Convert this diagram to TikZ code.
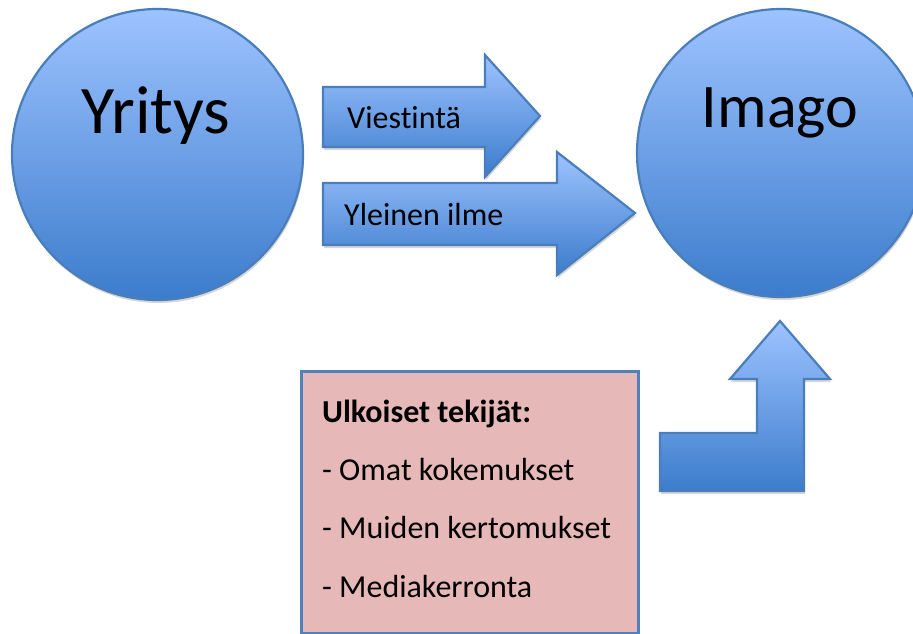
\documentclass[tikz,border=0pt]{standalone}
\usepackage{fontspec}
\setmainfont{Carlito}[Ligatures=NoCommon]
\definecolor{topblue}{RGB}{157,195,255}
\definecolor{botblue}{RGB}{60,124,204}
\definecolor{bordblue}{RGB}{74,126,187}
\definecolor{boxpink}{RGB}{230,185,184}
\definecolor{boxblue}{RGB}{79,129,189}
\begin{document}
\begin{tikzpicture}[x=1pt,y=-1pt,
  blueshape/.style={draw=bordblue, line width=2.2pt, top color=topblue, bottom color=botblue, line join=miter},
  shadowfill/.style={fill=black!16, draw=none},
  bigtext/.style={font=\fontsize{68}{72}\selectfont, inner sep=0, anchor=base},
  midtext/.style={font=\fontsize{32}{36}\selectfont, inner sep=0, anchor=base west}]
\useasboundingbox (0,0) rectangle (913,634);

% shadows
\fill[shadowfill] (158.5,157.5) circle (145.5);
\fill[shadowfill] (782,156) circle (144);
\begin{scope}[shift={(1,3)}]
\fill[shadowfill] (323,87) -- (485,87) -- (485,55) -- (540,116) -- (485,177) -- (485,147) -- (323,147) -- cycle;
\fill[shadowfill] (323,183) -- (557,183) -- (557,152) -- (635,213) -- (557,275) -- (557,245) -- (323,245) -- cycle;
\fill[shadowfill] (660,433) -- (757,433) -- (757,379) -- (730,379) -- (780,321) -- (830,379) -- (804,379) -- (804,491) -- (660,491) -- cycle;
\end{scope}

% circles
\node[circle, blueshape, minimum size=291pt, inner sep=0] (yritys) at (157.5,154.5) {};
\node[circle, blueshape, minimum size=288pt, inner sep=0] (imago) at (781,153) {};
\node[bigtext] (yritysT) at (156,133) {Yritys};
\node[bigtext, font=\fontsize{62}{66}\selectfont] (imagoT) at (780,127) {Imago};

% arrows
\filldraw[blueshape] (323,87) -- (485,87) -- (485,55) -- (540,116) -- (485,177) -- (485,147) -- (323,147) -- cycle;
\node[midtext] (viest) at (347,128) {Viestintä};
\filldraw[blueshape] (323,183) -- (557,183) -- (557,152) -- (635,213) -- (557,275) -- (557,245) -- (323,245) -- cycle;
\node[midtext] (ylein) at (344,225) {Yleinen ilme};

% bent arrow
\filldraw[blueshape] (660,433) -- (757,433) -- (757,379) -- (730,379) -- (780,321) -- (830,379) -- (804,379) -- (804,491) -- (660,491) -- cycle;

% box
\node[rectangle, draw=boxblue, line width=2.5pt, fill=boxpink, minimum width=337pt, minimum height=262pt, anchor=north west, inner sep=0] (box) at (300,370) {};
\node[midtext, font=\fontsize{32}{36}\selectfont\bfseries] (b1) at (322,422) {Ulkoiset tekijät:};
\node[midtext] (b2) at (322,480) {- Omat kokemukset};
\node[midtext] (b3) at (322,538) {- Muiden kertomukset};
\node[midtext] (b4) at (322,597) {- Mediakerronta};
\end{tikzpicture}
\end{document}
